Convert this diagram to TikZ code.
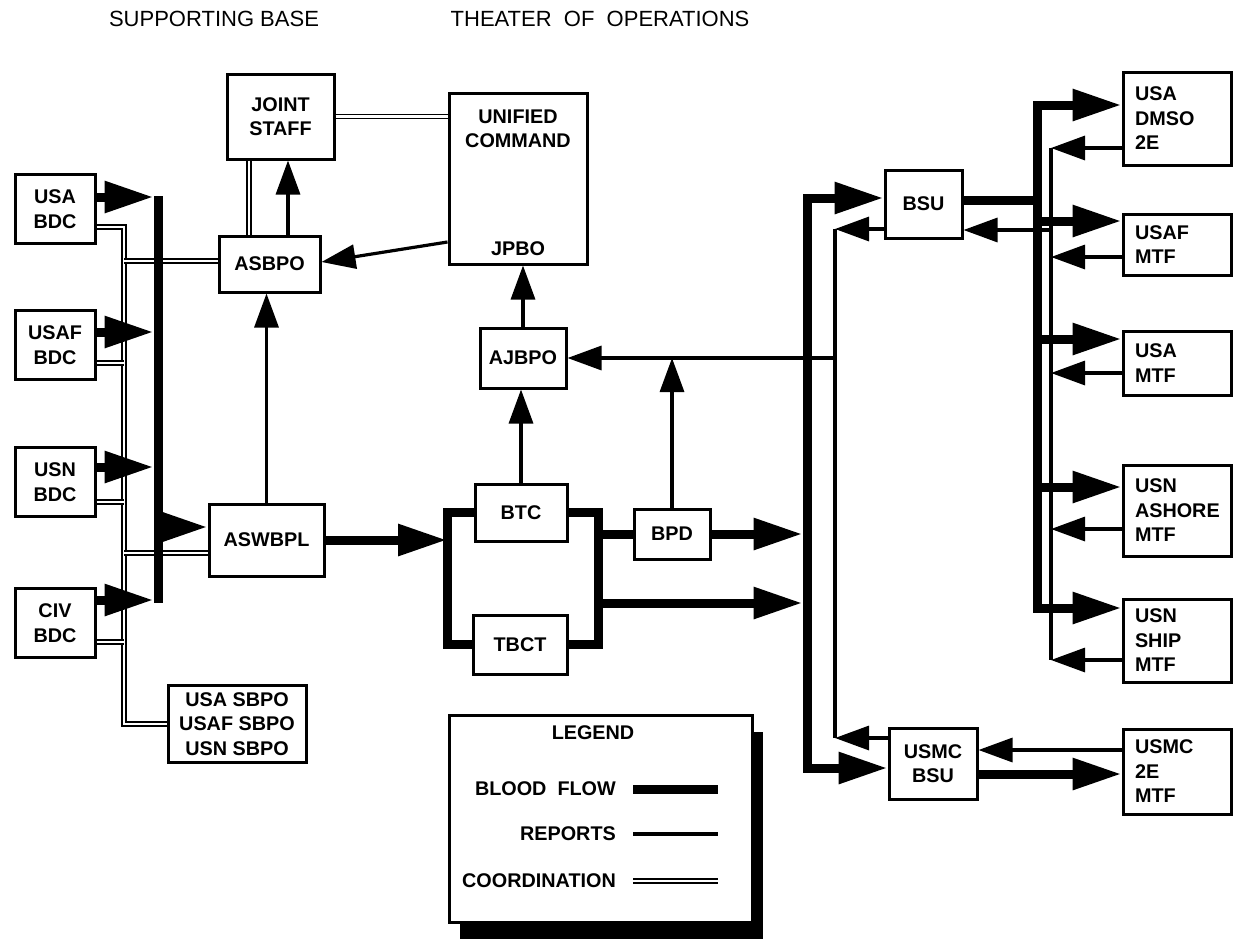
\documentclass[tikz,border=0pt]{standalone}
\usepackage{fontspec}
\setmainfont{Liberation Sans}
\usetikzlibrary{positioning, calc, arrows.meta, shadows}

\newcommand{\boxfont}{\fontsize{19.8}{24.5}\selectfont\bfseries}
\newcommand{\headfont}{\fontsize{22}{24}\selectfont}

\tikzset{
    box/.style={draw, line width=3pt, font=\boxfont, align=center, inner sep=0pt},
    bdc/.style={box, minimum width=80pt, minimum height=69pt},
    mtf/.style={box, align=left, text width=84pt, inner xsep=12pt, minimum width=108pt},
    lbl/.style={font=\boxfont, align=center, inner sep=0pt},
    flow/.style={line width=9pt},
    flowarrow/.style={flow, -{Triangle[length=49pt,width=30pt]}},
    report/.style={line width=3.2pt},
    reportarrow/.style={report, -{Triangle[length=34pt,width=24pt]}},
    coord/.style={double, double distance=2.4pt, line width=1.4pt}
}

\begin{document}
\begin{tikzpicture}[x=1pt, y=-1pt]
    \useasboundingbox (0,0) rectangle (1238,943);

    % Headings
    \node[font=\headfont] (base) at (214,19) {SUPPORTING BASE};
    \node[font=\headfont] (theater) at (600,19) {THEATER\ \ OF\ \ OPERATIONS};

    % Supporting base
    \node[bdc] (usabdc) at (55,209) {USA\\BDC};
    \node[bdc] (usafbdc) at (55,345) {USAF\\BDC};
    \node[bdc] (usnbdc) at (55,482) {USN\\BDC};
    \node[bdc] (civbdc) at (55,623) {CIV\\BDC};
    \node[box, minimum width=138pt, minimum height=77pt] (sbpo) at (237,724) {USA SBPO\\USAF SBPO\\USN SBPO};
    \node[box, minimum width=101pt, minimum height=56pt] (asbpo) at (269.5,264) {ASBPO};
    \node[box, minimum width=115pt, minimum height=72pt] (aswbpl) at (266.5,540) {ASWBPL};
    \node[box, minimum width=107pt, minimum height=85pt] (jstaff) at (280.5,116.5) {JOINT\\STAFF};

    % Theater
    \node[box, minimum width=138pt, minimum height=171pt] (ucmd) at (518,178.5) {};
    \node[lbl, below=18pt of ucmd.north] (ucname) {UNIFIED\\COMMAND};
    \node[lbl, above=10pt of ucmd.south] (jpbo) {JPBO};
    \node[box, minimum width=86pt, minimum height=60pt] (ajbpo) at (523,358) {AJBPO};
    \node[box, minimum width=92pt, minimum height=57pt] (btc) at (521,512.5) {BTC};
    \node[box, minimum width=94pt, minimum height=59pt] (tbct) at (520,644.5) {TBCT};
    \node[box, minimum width=76pt, minimum height=50pt] (bpd) at (672,534) {BPD};
    \node[box, minimum width=77pt, minimum height=68pt] (bsu) at (923.5,204) {BSU};
    \node[box, minimum width=88pt, minimum height=71pt] (usmcbsu) at (933,763.5) {USMC\\BSU};
    \node[mtf, minimum height=93pt] (dmso) at (1177,118.5) {USA\\DMSO\\2E};
    \node[mtf, minimum height=61pt] (usafmtf) at (1177,244.5) {USAF\\MTF};
    \node[mtf, minimum height=64pt] (usamtf) at (1177,363) {USA\\MTF};
    \node[mtf, minimum height=91pt] (ashore) at (1177,510.5) {USN\\ASHORE\\MTF};
    \node[mtf, minimum height=83pt] (ship) at (1177,640.5) {USN\\SHIP\\MTF};
    \node[mtf, minimum height=85pt] (usmcmtf) at (1177,771.5) {USMC\\2E\\MTF};

    % Bus points
    \coordinate (ctop) at (124,227);
    \coordinate (lbtop) at (158,196);
    \coordinate (lbbot) at (158,603);
    \coordinate (lbedge) at (153.5,0);
    \coordinate (loopl) at (447,540);
    \coordinate (loopr) at (598,603);
    \coordinate (rbtop) at (807,198);
    \coordinate (rbbot) at (807,768);
    \coordinate (rbedge) at (802.5,0);
    \coordinate (mbtop) at (1037,105);
    \coordinate (mbbot) at (1037,608);
    \coordinate (rptop) at (835,229);
    \coordinate (rpbot) at (835,738);
    \coordinate (mrtop) at (1051,148);
    \coordinate (mrbot) at (1051,660);

    % Coordination
    \draw[coord] ($(usabdc.east)+(0,18)$) -- (ctop) |- (sbpo.west);
    \foreach \n/\dy in {usafbdc/18, usnbdc/20, civbdc/19} {
        \path ($(\n.east)+(0,\dy)$) coordinate (tmp);
        \draw[coord] (tmp) -- (tmp -| ctop);
    }
    \path ($(asbpo.west)+(0,-3)$) coordinate (tmp);
    \draw[coord] (tmp) -- (tmp -| ctop);
    \path ($(aswbpl.west)+(0,13)$) coordinate (tmp);
    \draw[coord] (tmp) -- (tmp -| ctop);
    \path ($(jstaff.south)+(-31.5,0)$) coordinate (tmp);
    \draw[coord] (tmp) -- (tmp |- asbpo.north);
    \draw[coord] (jstaff.east) -- (jstaff.east -| ucmd.west);

    % Blood flow, supporting base
    \draw[flow] (lbtop) -- (lbbot);
    \foreach \n/\dy in {usabdc/-12, usafbdc/-13, usnbdc/-15, civbdc/-23} {
        \path ($(\n.east)+(0,\dy)$) coordinate (tmp);
        \draw[flowarrow] (tmp) -- (tmp -| lbedge);
    }
    \path ($(aswbpl.west)+(0,-13)$) coordinate (tmp);
    \draw[flowarrow] (tmp -| lbtop) -- (tmp);
    \draw[flowarrow] (aswbpl.east) -- (loopl);

    % Blood flow, theater
    \draw[flow] (btc.west) -| (loopl) |- (tbct.west);
    \draw[flow] (btc.east) -| (loopr) |- (tbct.east);
    \draw[flow] (bpd.west) -- (bpd.west -| loopr);
    \draw[flowarrow] (bpd.east) -- (bpd.east -| rbedge);
    \draw[flowarrow] (loopr) -- (loopr -| rbedge);
    \draw[flowarrow] (rbbot) -- (rbtop) -- (rbtop -| bsu.west);
    \draw[flowarrow] (rbtop) -- (rbbot) -- (rbbot -| usmcbsu.west);
    \path ($(bsu.east)+(0,-4)$) coordinate (tmp);
    \draw[flow] (tmp) -- (tmp -| mbtop);
    \draw[flowarrow] (mbbot) -- (mbtop) -- (mbtop -| dmso.west);
    \draw[flowarrow] (mbtop) -- (mbbot) -- (mbbot -| ship.west);
    \foreach \n/\dy in {usafmtf/-23.5, usamtf/-24, ashore/-23.5} {
        \path ($(\n.west)+(0,\dy)$) coordinate (tmp);
        \draw[flowarrow] (tmp -| mbtop) -- (tmp);
    }
    \path ($(usmcbsu.east)+(0,10.5)$) coordinate (tmp);
    \draw[flowarrow] (tmp) -- (tmp -| usmcmtf.west);

    % Reports
    \path ($(asbpo.north)+(18.5,0)$) coordinate (tmp);
    \draw[reportarrow] (tmp) -- (tmp |- jstaff.south);
    \draw[reportarrow] (aswbpl.north) -- (aswbpl.north |- asbpo.south);
    \draw[reportarrow] ($(ucmd.west)+(0,63.5)$) -- ($(asbpo.east)+(0,-2)$);
    \draw[reportarrow] (ajbpo.north) -- (ajbpo.north |- ucmd.south);
    \draw[reportarrow] (btc.north) -- (btc.north |- ajbpo.south);
    \draw[report] (rptop) -- (rpbot);
    \draw[reportarrow] (rptop -| bsu.west) -- (rptop);
    \draw[reportarrow] (rpbot -| usmcbsu.west) -- (rpbot);
    \draw[reportarrow] (rptop |- ajbpo.east) -- (ajbpo.east);
    \draw[reportarrow] (bpd.north) -- (bpd.north |- ajbpo.east);
    \draw[report] (mrtop) -- (mrbot);
    \foreach \n/\dy in {dmso/29.5, usafmtf/12.5, usamtf/10, ashore/18.5, ship/19.5} {
        \path ($(\n.west)+(0,\dy)$) coordinate (tmp);
        \draw[reportarrow] (tmp) -- (tmp -| mrtop);
    }
    \path ($(bsu.east)+(0,26)$) coordinate (tmp);
    \draw[reportarrow] (tmp -| mrtop) -- (tmp);
    \path ($(usmcmtf.west)+(0,-21.5)$) coordinate (tmp);
    \draw[reportarrow] (tmp) -- (tmp -| usmcbsu.east);

    % Legend
    \node[draw, line width=3pt, fill=white, minimum width=303pt, minimum height=207pt,
        drop shadow={shadow xshift=11pt, shadow yshift=-17pt, fill=black, opacity=1}] (legend) at (600.5,818.5) {};
    \node[lbl] (lgtitle) at (593,733) {LEGEND};
    \node[lbl, anchor=east] (lgflow) at (616,789) {BLOOD\ \ FLOW};
    \node[lbl, anchor=east] (lgrep) at (616,834) {REPORTS};
    \node[lbl, anchor=east] (lgcoord) at (616,881) {COORDINATION};
    \draw[flow] ($(lgflow.east)+(17,0)$) -- ++(85,0);
    \draw[report] ($(lgrep.east)+(17,0)$) -- ++(85,0);
    \draw[coord] ($(lgcoord.east)+(17,0)$) -- ++(85,0);
\end{tikzpicture}
\end{document}
